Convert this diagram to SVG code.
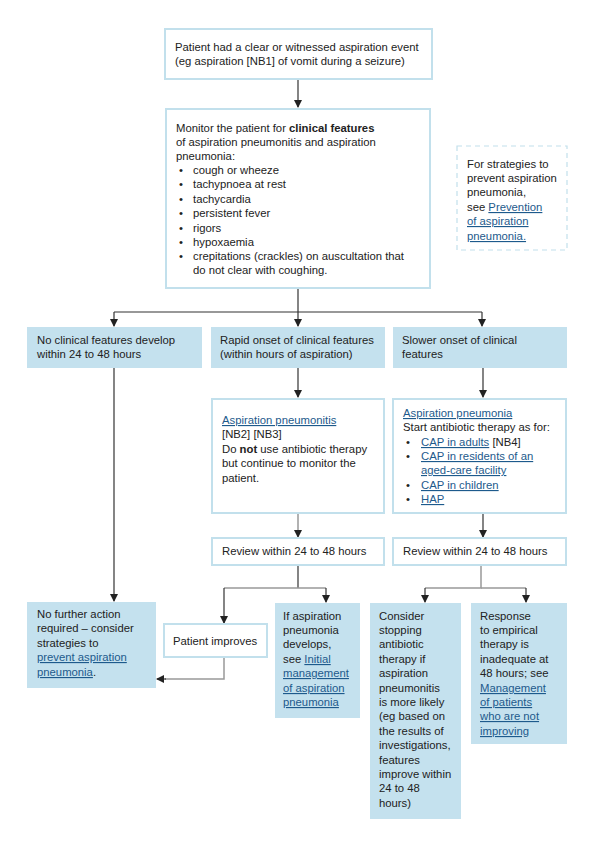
<svg xmlns="http://www.w3.org/2000/svg" width="595" height="850" viewBox="0 0 595 850">
<defs>
<marker id="ah" viewBox="0 0 8 8" refX="7" refY="4" markerWidth="8" markerHeight="8" markerUnits="userSpaceOnUse" orient="auto">
<path d="M0,0 L8,4 L0,8 z" fill="#222"/>
</marker>
<style>
text{font-family:"Liberation Sans",Arial,sans-serif;font-size:11.3px;fill:#222}
.w{fill:#fff;stroke:#c2e0ec;stroke-width:2}
.b{fill:#c4e1ee;stroke:none}
.d{fill:#fff;stroke:#c2e0ec;stroke-width:1.2;stroke-dasharray:5 4}
.c{fill:none;stroke:#333;stroke-width:1.2}
.g{fill:none;stroke:#999;stroke-width:1.5}
.a{marker-end:url(#ah)}
.l{fill:#1d5a8c;text-decoration:underline}
</style>
</defs>
<rect width="595" height="850" fill="#fff"/>
<g id="connectors">
<path class="c a" d="M298,79 V107"/>
<path class="c" d="M298,289 V312"/>
<path class="c" d="M114,312 H482"/>
<path class="c a" d="M114,312 V326"/>
<path class="c a" d="M298,312 V326"/>
<path class="c a" d="M482,312 V326"/>
<path class="c a" d="M114,368 V601"/>
<path class="c a" d="M298,368 V397"/>
<path class="c a" d="M483,368 V397"/>
<path class="g a" d="M298,513 V537"/>
<path class="c a" d="M483,513 V537"/>
<path class="c" d="M298,565 V588"/>
<path class="g" d="M224,588 H326"/>
<path class="c a" d="M224,588 V623"/>
<path class="c a" d="M326,588 V602"/>
<path class="g" d="M481,565 V588 H425"/>
<path class="c a" d="M425,588 V602"/>
<path class="g" d="M481,588 H526"/>
<path class="c a" d="M526,588 V602"/>
<path class="g" d="M224,658 V679 H165"/>
<path class="c a" d="M166,679 H157"/>
</g>
<g id="n-event">
<rect class="w" x="165" y="29" width="267" height="50"/>
<text x="175" y="51">Patient had a clear or witnessed aspiration event</text>
<text x="175" y="65">(eg aspiration [NB1] of vomit during a seizure)</text>
</g>
<g id="n-monitor">
<rect class="w" x="166" y="109" width="264" height="179"/>
<text x="176" y="132">Monitor the patient for <tspan font-weight="bold">clinical features</tspan></text>
<text x="176" y="146">of aspiration pneumonitis and aspiration</text>
<text x="176" y="160">pneumonia:</text>
<g>
<text x="179" y="174">•</text><text x="193" y="174">cough or wheeze</text>
<text x="179" y="188">•</text><text x="193" y="188">tachypnoea at rest</text>
<text x="179" y="203">•</text><text x="193" y="203">tachycardia</text>
<text x="179" y="217">•</text><text x="193" y="217">persistent fever</text>
<text x="179" y="232">•</text><text x="193" y="232">rigors</text>
<text x="179" y="246">•</text><text x="193" y="246">hypoxaemia</text>
<text x="179" y="260">•</text><text x="193" y="260">crepitations (crackles) on auscultation that</text>
<text x="193" y="274">do not clear with coughing.</text>
</g>
</g>
<g id="n-prevention">
<rect class="d" x="457" y="146" width="110" height="104"/>
<text x="467" y="168">For strategies to</text>
<text x="467" y="182">prevent aspiration</text>
<text x="467" y="196">pneumonia,</text>
<text x="467" y="211">see <tspan class="l">Prevention</tspan></text>
<text x="467" y="225" class="l">of aspiration</text>
<text x="467" y="240" class="l">pneumonia.</text>
</g>
<g id="n-none">
<rect class="b" x="27" y="327" width="175" height="41"/>
<text x="37" y="344">No clinical features develop</text>
<text x="37" y="358">within 24 to 48 hours</text>
</g>
<g id="n-rapid">
<rect class="b" x="211" y="327" width="174" height="41"/>
<text x="220" y="344">Rapid onset of clinical features</text>
<text x="220" y="358">(within hours of aspiration)</text>
</g>
<g id="n-slower">
<rect class="b" x="393" y="327" width="174" height="41"/>
<text x="402" y="344">Slower onset of clinical</text>
<text x="402" y="358">features</text>
</g>
<g id="n-pneumonitis">
<rect class="w" x="212" y="399" width="172" height="114"/>
<text x="222" y="424" class="l">Aspiration pneumonitis</text>
<text x="222" y="438">[NB2] [NB3]</text>
<text x="222" y="453">Do <tspan font-weight="bold">not</tspan> use antibiotic therapy</text>
<text x="222" y="467">but continue to monitor the</text>
<text x="222" y="482">patient.</text>
</g>
<g id="n-pneumonia">
<rect class="w" x="393" y="399" width="173" height="114"/>
<text x="403" y="417" class="l">Aspiration pneumonia</text>
<text x="403" y="431">Start antibiotic therapy as for:</text>
<text x="406" y="446">•</text><text x="421" y="446"><tspan class="l">CAP in adults</tspan> [NB4]</text>
<text x="406" y="460">•</text><text x="421" y="460" class="l">CAP in residents of an</text>
<text x="421" y="474" class="l">aged-care facility</text>
<text x="406" y="489">•</text><text x="421" y="489" class="l">CAP in children</text>
<text x="406" y="503">•</text><text x="421" y="503" class="l">HAP</text>
</g>
<g id="n-review1">
<rect class="w" x="212" y="538" width="172" height="27"/>
<text x="222" y="555">Review within 24 to 48 hours</text>
</g>
<g id="n-review2">
<rect class="w" x="393" y="538" width="173" height="27"/>
<text x="403" y="555">Review within 24 to 48 hours</text>
</g>
<g id="n-nofurther">
<rect class="b" x="27" y="602" width="129" height="86"/>
<text x="37" y="618">No further action</text>
<text x="37" y="632">required – consider</text>
<text x="37" y="647">strategies to</text>
<text x="37" y="661" class="l">prevent aspiration</text>
<text x="37" y="676"><tspan class="l">pneumonia</tspan>.</text>
</g>
<g id="n-improves">
<rect class="w" x="164" y="624" width="103" height="33"/>
<text x="173" y="645">Patient improves</text>
</g>
<g id="n-develops">
<rect class="b" x="275" y="603" width="85" height="115"/>
<text x="283" y="620">If aspiration</text>
<text x="283" y="634">pneumonia</text>
<text x="283" y="648">develops,</text>
<text x="283" y="663">see <tspan class="l">Initial</tspan></text>
<text x="283" y="677" class="l">management</text>
<text x="283" y="692" class="l">of aspiration</text>
<text x="283" y="706" class="l">pneumonia</text>
</g>
<g id="n-stopping">
<rect class="b" x="370" y="603" width="91" height="216"/>
<text x="379" y="620">Consider</text>
<text x="379" y="634">stopping</text>
<text x="379" y="648">antibiotic</text>
<text x="379" y="663">therapy if</text>
<text x="379" y="677">aspiration</text>
<text x="379" y="692">pneumonitis</text>
<text x="379" y="706">is more likely</text>
<text x="379" y="720">(eg based on</text>
<text x="379" y="735">the results of</text>
<text x="379" y="749">investigations,</text>
<text x="379" y="764">features</text>
<text x="379" y="778">improve within</text>
<text x="379" y="792">24 to 48</text>
<text x="379" y="807">hours)</text>
</g>
<g id="n-response">
<rect class="b" x="471" y="603" width="96" height="141"/>
<text x="480" y="620">Response</text>
<text x="480" y="634">to empirical</text>
<text x="480" y="648">therapy is</text>
<text x="480" y="663">inadequate at</text>
<text x="480" y="677">48 hours; see</text>
<text x="480" y="692" class="l">Management</text>
<text x="480" y="706" class="l">of patients</text>
<text x="480" y="720" class="l">who are not</text>
<text x="480" y="735" class="l">improving</text>
</g>
</svg>
